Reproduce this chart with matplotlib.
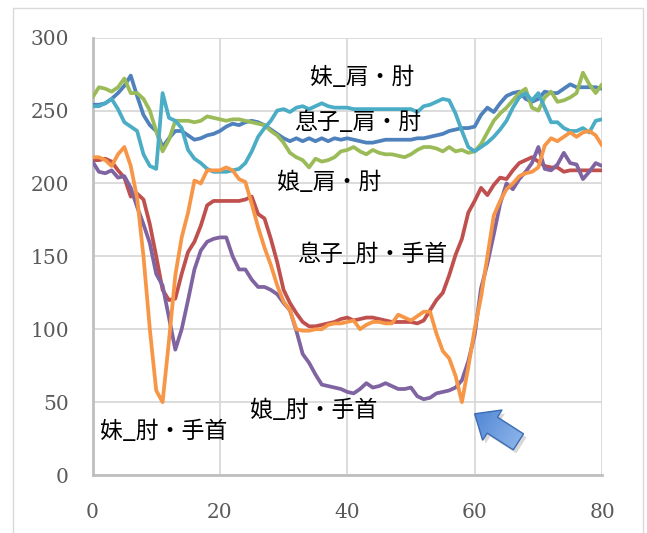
import numpy as np
import matplotlib
matplotlib.use("Agg")
import matplotlib.pyplot as plt
from matplotlib.patches import Polygon, Rectangle
from matplotlib.colors import LinearSegmentedColormap
import matplotlib.transforms as mtransforms

# frame index 0..80
frames = np.arange(81)

imouto_kata = [254, 254, 255, 258, 262, 267, 274, 260, 247, 240,
               236, 225, 231, 236, 236, 233, 230, 231, 233, 234,
               236, 239, 241, 240, 242, 243, 242, 240, 237, 234,
               231, 229, 231, 229, 231, 229, 231, 229, 231, 230,
               231, 230, 229, 228, 228, 229, 230, 230, 230, 230,
               230, 231, 231, 232, 233, 234, 236, 237, 238, 238,
               239, 247, 252, 249, 255, 260, 262, 263, 258, 256,
               258, 263, 262, 262, 265, 268, 266, 266, 266, 266, 265]

imouto_hiji = [216, 216, 217, 215, 209, 204, 191, 193, 189, 172,
               150, 127, 120, 121, 138, 153, 160, 171, 185, 188,
               188, 188, 188, 188, 189, 191, 179, 176, 162, 146,
               127, 118, 111, 105, 102, 102, 103, 104, 105, 107,
               108, 106, 107, 108, 108, 107, 106, 105, 105, 105,
               105, 104, 106, 113, 120, 125, 137, 151, 162, 180,
               188, 197, 192, 199, 204, 203, 209, 214, 216, 218,
               215, 212, 211, 211, 208, 209, 209, 209, 209, 209, 209]

musuko_kata = [259, 266, 265, 263, 266, 272, 262, 262, 258, 250,
               236, 222, 230, 243, 243, 243, 242, 243, 246, 245,
               244, 243, 244, 244, 243, 242, 241, 240, 236, 233,
               228, 221, 218, 216, 211, 217, 215, 216, 218, 222,
               223, 225, 222, 220, 223, 221, 220, 220, 219, 218,
               220, 223, 225, 225, 224, 222, 225, 222, 223, 221,
               222, 227, 235, 243, 248, 252, 257, 262, 265, 252,
               250, 259, 263, 256, 257, 259, 262, 276, 268, 262, 268]

musuko_hiji = [215, 208, 207, 209, 204, 205, 197, 184, 172, 159,
               138, 130, 108, 86, 100, 120, 141, 154, 160, 162,
               163, 163, 150, 141, 141, 134, 129, 129, 127, 124,
               118, 113, 99, 83, 77, 69, 62, 61, 60, 59,
               57, 56, 59, 63, 60, 61, 63, 61, 59, 59,
               60, 54, 52, 53, 56, 57, 58, 60, 65, 78,
               96, 128, 145, 165, 186, 200, 196, 203, 208, 214,
               225, 210, 209, 213, 221, 214, 213, 203, 208, 214, 212]

musume_kata = [253, 253, 255, 258, 251, 242, 239, 236, 220, 212,
               210, 262, 245, 243, 238, 223, 217, 214, 210, 208,
               208, 208, 209, 210, 214, 222, 232, 238, 243, 250,
               251, 249, 252, 253, 251, 253, 255, 253, 252, 252,
               252, 251, 251, 251, 251, 251, 251, 251, 251, 251,
               251, 249, 253, 254, 256, 258, 257, 248, 236, 225,
               222, 225, 228, 232, 237, 243, 252, 259, 262, 257,
               262, 252, 242, 242, 238, 236, 236, 238, 235, 243, 244]

musume_hiji = [218, 218, 216, 212, 220, 225, 212, 190, 150, 100,
               58, 50, 92, 137, 163, 180, 202, 200, 209, 209,
               209, 211, 209, 203, 201, 186, 170, 156, 144, 130,
               119, 113, 100, 99, 99, 100, 100, 103, 104, 104,
               105, 106, 100, 103, 105, 105, 104, 104, 110, 108,
               106, 109, 112, 112, 97, 85, 80, 68, 50, 74,
               100, 122, 150, 178, 188, 196, 200, 205, 207, 208,
               211, 226, 231, 229, 232, 235, 232, 235, 236, 233, 226]

series = [imouto_kata, imouto_hiji, musuko_kata, musuko_hiji, musume_kata, musume_hiji]
colors = ['#4F81BD', '#C0504D', '#9BBB59', '#8064A2', '#4BACC6', '#F79646']

# text labels: (text, left x, y)
labels = [('妹_肩・肘', 34.2, 273),
          ('息子_肩・肘', 31.6, 242),
          ('娘_肩・肘', 29.0, 201),
          ('息子_肘・手首', 32.2, 151),
          ('娘_肘・手首', 24.7, 44),
          ('妹_肘・手首', 1.2, 30)]

fig = plt.figure(figsize=(6.47, 5.33), dpi=100)
fig.patch.set_facecolor('white')
ax = fig.add_axes([0.143, 0.1088, 0.7875, 0.8205])

# light frame around the chart area
fig.patches.append(Rectangle((13 / 647, -0.1), 630 / 647, 1.085, transform=fig.transFigure,
                             fill=False, edgecolor='#D9D9D9', lw=1.0))

for vals, c in zip(series, colors):
    ax.plot(frames, vals, color=c, lw=2.7, solid_joinstyle='round', solid_capstyle='round', zorder=3)

for txt, lx, ly in labels:
    ax.text(lx, ly, txt, fontsize=16.5, family=['Noto Sans CJK JP', 'DejaVu Sans'],
            ha='left', va='center', color='black', zorder=4)

# block arrow pointing at the second dip
tip = (60.0, 42.0)
trans = fig.dpi_scale_trans + mtransforms.ScaledTranslation(tip[0], tip[1], ax.transData)
u = np.array([0.841, -0.540])
n = np.array([0.540, 0.841])
head_len, head_w, shaft_w, total = 0.21, 0.18, 0.095, 0.52
pts = np.array([[0, 0],
                head_len * u - head_w * n,
                head_len * u - shaft_w * n,
                total * u - shaft_w * n,
                total * u + shaft_w * n,
                head_len * u + shaft_w * n,
                head_len * u + head_w * n])
shadow = Polygon(pts + np.array([0.03, -0.035]), closed=True, transform=trans,
                 facecolor='#7F7F7F', edgecolor='none', alpha=0.3, zorder=5)
ax.add_patch(shadow)
arrow = Polygon(pts, closed=True, transform=trans, facecolor='none',
                edgecolor='#3A6CB4', lw=1.0, zorder=7)
ax.add_patch(arrow)
gx, gy = np.meshgrid(np.linspace(-0.1, 0.65, 80), np.linspace(-0.5, 0.2, 80))
grad = gx * u[0] + gy * u[1]
cmap = LinearSegmentedColormap.from_list('arr', ['#3F79CE', '#A9C9F3'])
img = ax.imshow(grad, cmap=cmap, origin='lower', extent=(-0.1, 0.65, -0.5, 0.2),
                transform=trans, zorder=6, interpolation='bilinear', aspect='auto')
img.set_clip_path(arrow)

ax.set_xlim(0, 80)
ax.set_ylim(0, 300)
ax.set_xticks([0, 20, 40, 60, 80])
ax.set_yticks([0, 50, 100, 150, 200, 250, 300])
ax.grid(True, color='#D9D9D9', lw=1.3)
ax.set_axisbelow(True)
for s in ['top', 'right']:
    ax.spines[s].set_visible(False)
for s in ['left', 'bottom']:
    ax.spines[s].set_color('#BFBFBF')
    ax.spines[s].set_linewidth(2.0)
ax.tick_params(length=0, labelsize=14.5, labelcolor='#595959')
ax.tick_params(axis='y', pad=17)
ax.tick_params(axis='x', pad=20)
for lab in ax.get_xticklabels() + ax.get_yticklabels():
    lab.set_family('DejaVu Serif')

fig.savefig('out.png', dpi=100)
